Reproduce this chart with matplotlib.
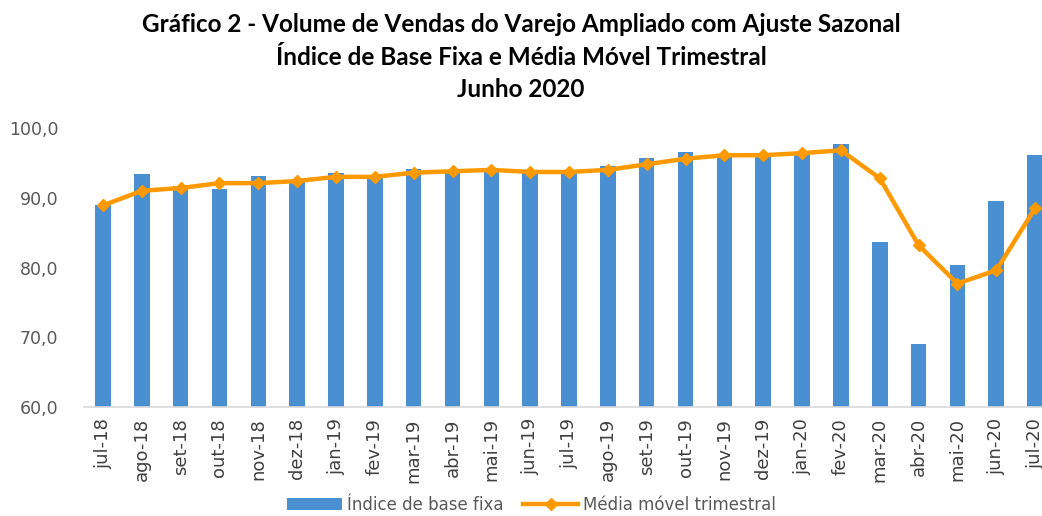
import matplotlib
matplotlib.use('Agg')
import matplotlib.pyplot as plt
import numpy as np

# months on the x axis
months = ['jul-18', 'ago-18', 'set-18', 'out-18', 'nov-18', 'dez-18',
          'jan-19', 'fev-19', 'mar-19', 'abr-19', 'mai-19', 'jun-19',
          'jul-19', 'ago-19', 'set-19', 'out-19', 'nov-19', 'dez-19',
          'jan-20', 'fev-20', 'mar-20', 'abr-20', 'mai-20', 'jun-20', 'jul-20']

# Índice de base fixa (bars)
indice = [88.9, 93.4, 91.7, 91.3, 93.1, 92.4,
          93.5, 93.1, 94.1, 94.0, 94.1, 93.8,
          93.8, 94.6, 95.7, 96.6, 96.1, 96.1,
          96.5, 97.7, 83.7, 69.0, 80.4, 89.5, 96.1]

# Média móvel trimestral (line)
media = [88.9, 91.0, 91.4, 92.1, 92.1, 92.4,
         93.0, 93.0, 93.6, 93.8, 94.0, 93.7,
         93.7, 94.0, 94.8, 95.6, 96.1, 96.1,
         96.4, 96.8, 92.8, 83.2, 77.7, 79.6, 88.5]

yticks = [60, 70, 80, 90, 100]

fig = plt.figure(figsize=(10.42, 5.16), dpi=100)
ax = fig.add_axes([0.0802, 0.2112, 0.9318, 0.5407])

x = np.arange(len(months))
bars = ax.bar(x, indice, width=0.4, color='#4a8fd1', label='Índice de base fixa', zorder=2)
line, = ax.plot(x, media, color='#ff9900', linewidth=3.2, marker='D', markersize=6,
                label='Média móvel trimestral', zorder=3)

ax.set_ylim(60, 100)
ax.set_xlim(-0.5, len(months) - 0.5)
ax.set_yticks(yticks)
ax.set_yticklabels([f'{v:.1f}'.replace('.', ',') for v in yticks],
                   fontsize=12.5, color='#595959')
ax.set_xticks(x)
ax.set_xticklabels(months, rotation=90, fontsize=13, color='#404040')
ax.tick_params(axis='y', length=0, pad=18)
ax.tick_params(axis='x', length=0, pad=8)

for s in ['top', 'right', 'left']:
    ax.spines[s].set_visible(False)
ax.spines['bottom'].set_color('#d9d9d9')
ax.spines['bottom'].set_linewidth(1.2)

title_lines = ['Gráfico 2 - Volume de Vendas do Varejo Ampliado com Ajuste Sazonal',
               'Índice de Base Fixa e Média Móvel Trimestral',
               'Junho 2020']
for t, yy in zip(title_lines, [0.952, 0.889, 0.826]):
    fig.text(0.5, yy, t, ha='center', va='center', fontsize=17.5,
             fontweight='bold', family='Lato')

fig.legend(handles=[bars, line], loc='center', bbox_to_anchor=(0.51, 0.022), ncol=2,
           frameon=False, fontsize=12, handlelength=3.3, columnspacing=1.2,
           handletextpad=0.3, labelcolor='#595959')

plt.savefig('out.png', dpi=100)
